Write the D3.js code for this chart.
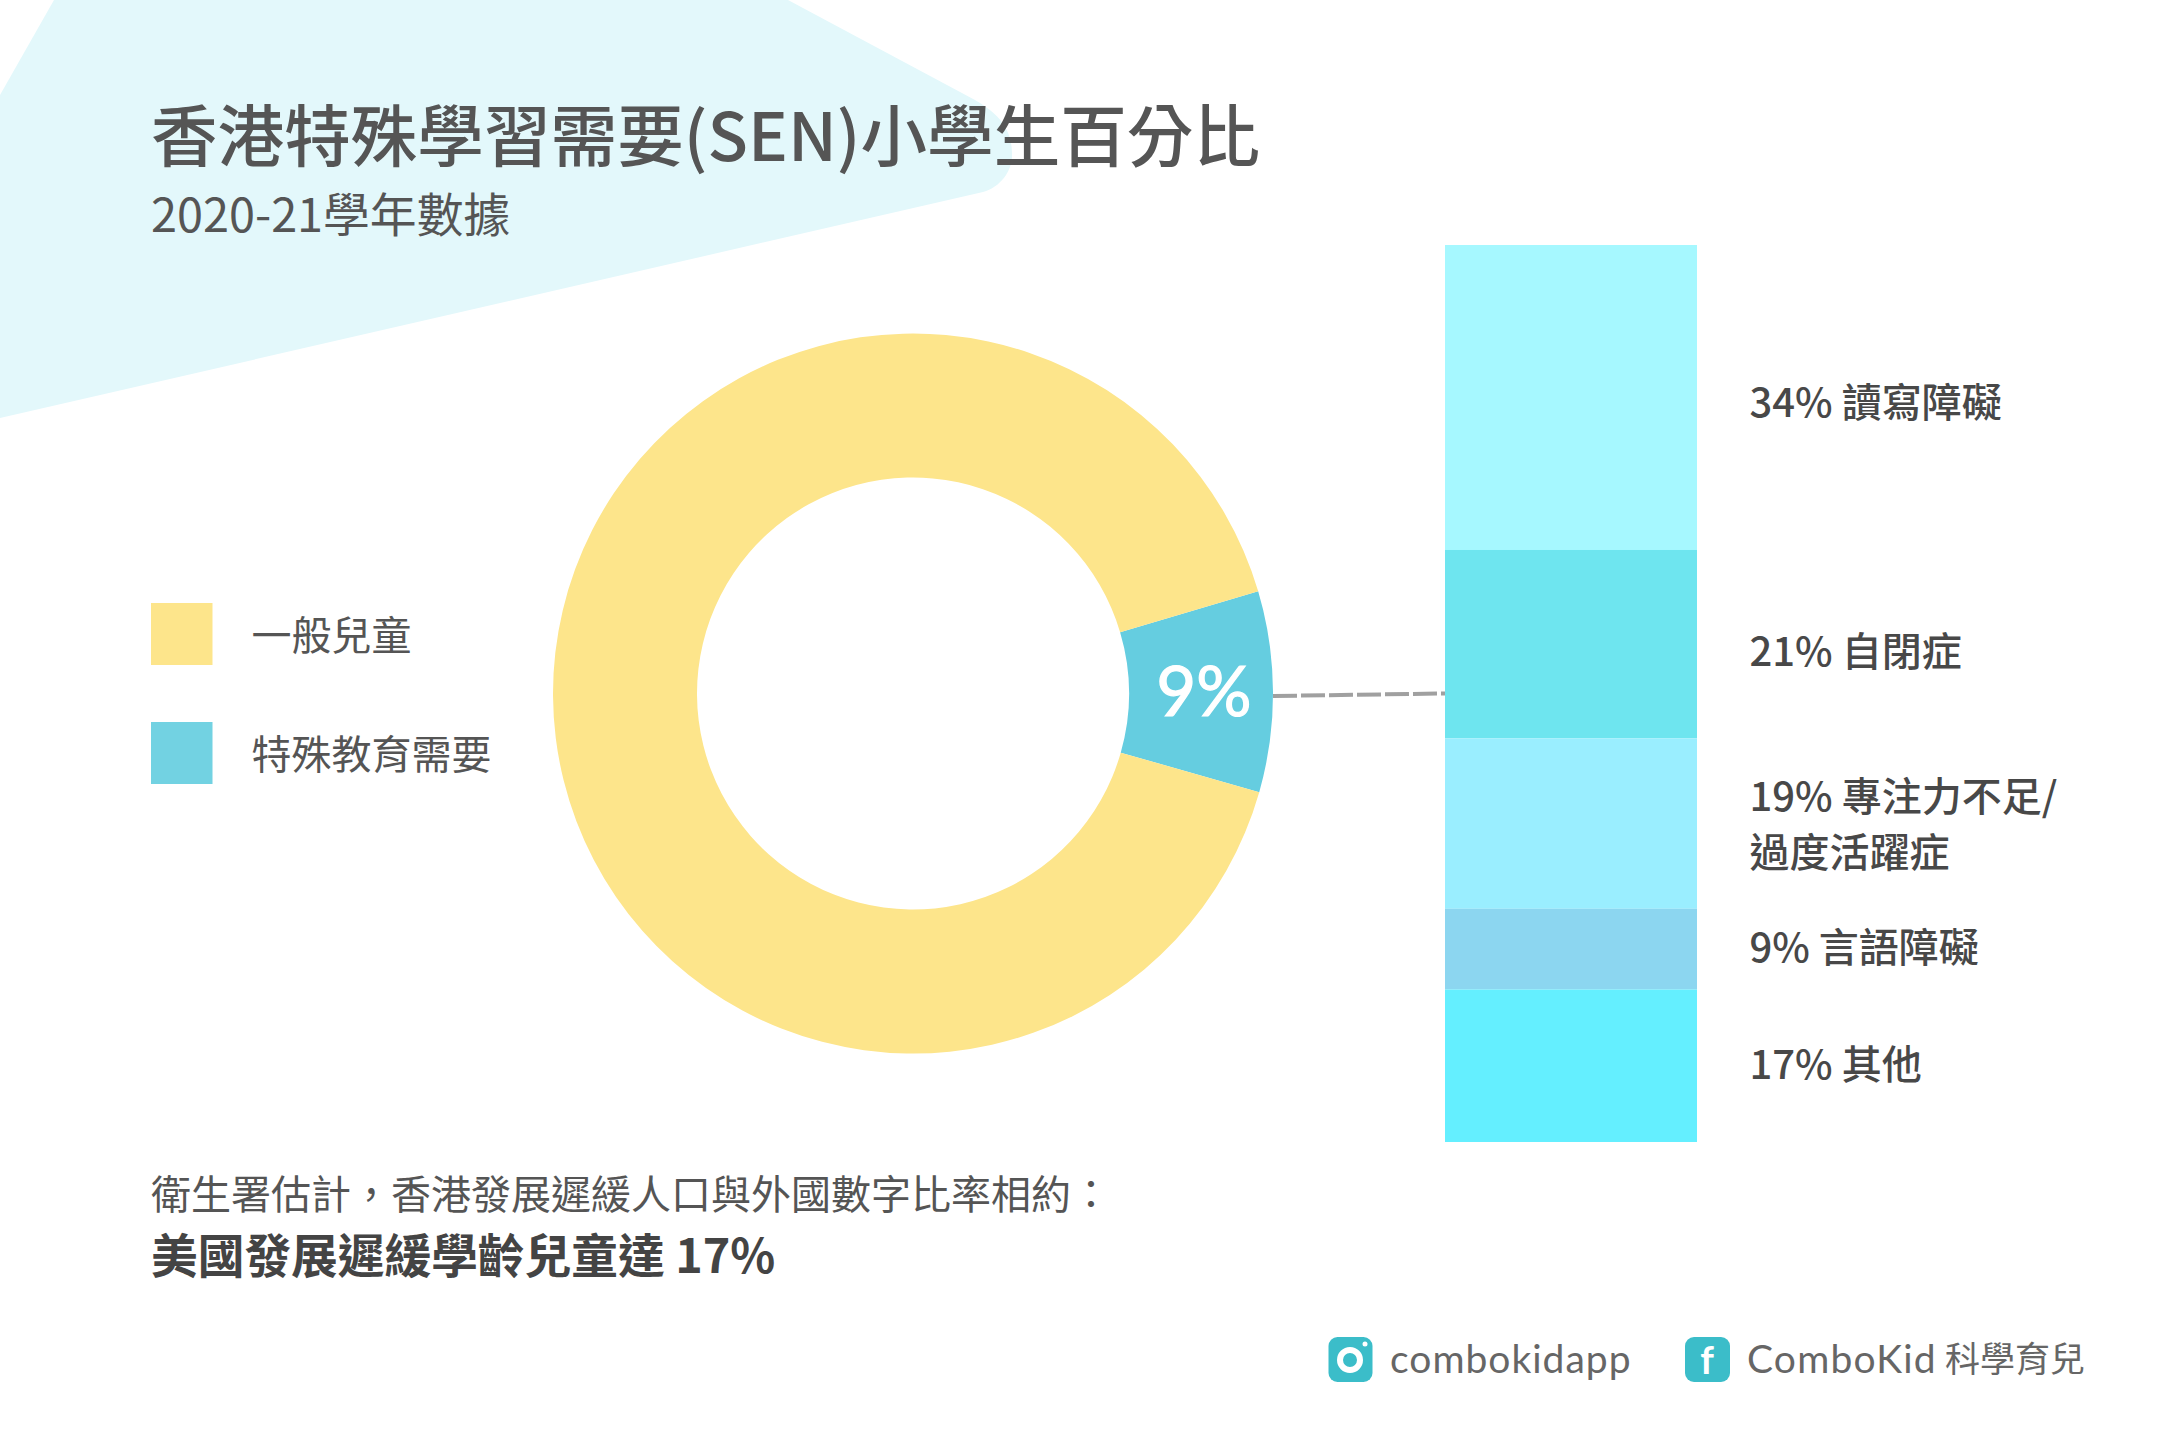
<!DOCTYPE html>
<html>
<head>
<meta charset="utf-8">
<script src="https://cdn.jsdelivr.net/npm/d3@7/dist/d3.min.js"></script>
<style>
html, body { margin: 0; padding: 0; background: #fff; }
svg { display: block; }
text { font-family: "Noto Sans CJK TC", "Noto Sans", sans-serif; }
</style>
</head>
<body>
<div id="chart"></div>
<script>
// pie data
const groupNames = ["特殊教育需要", "一般兒童"];
const groupValues = [9, 91];
const legendNames = ["一般兒童", "特殊教育需要"];

// stacked column data, top to bottom
const senValues = [34, 21, 19, 9, 17];
const senLines = [
    ["34% 讀寫障礙"],
    ["21% 自閉症"],
    ["19% 專注力不足/", "過度活躍症"],
    ["9% 言語障礙"],
    ["17% 其他"]
];

const width = 2160;
const height = 1440;

const groupColor = d3.scaleOrdinal()
    .domain(["一般兒童", "特殊教育需要"])
    .range(["#fde58b", "#65cde0"]);
const senColors = ["#a6f8ff", "#6ee5ef", "#9aeeff", "#8cd6f0", "#64efff"];

const svg = d3.select("#chart")
    .append("svg")
    .attr("width", width)
    .attr("height", height);

// background shape
svg.append("path")
    .attr("d", "M0,95L54,0L788,0L975,100C1005,117 1012,135 1012,155C1012,172 1000,187 983,192L0,418Z")
    .attr("fill", "#e3f8fb");

// title
svg.append("text")
    .attr("x", 151).attr("y", 161)
    .attr("font-size", 66.6)
    .attr("font-weight", 500)
    .attr("fill", "#555")
    .text("香港特殊學習需要(SEN)小學生百分比");

svg.append("text")
    .attr("x", 151).attr("y", 232)
    .attr("font-size", 46.8)
    .attr("font-weight", 400)
    .attr("fill", "#555")
    .text("2020-21學年數據");

// donut
const cx = 913, cy = 693.5;
const rotate = 73.5 * Math.PI / 180;
const pie = d3.pie().sort(null)
    .startAngle(rotate)
    .endAngle(rotate + 2 * Math.PI);
const arc = d3.arc().innerRadius(216).outerRadius(360);
const arcs = pie(groupValues);

const donut = svg.append("g").attr("transform", `translate(${cx},${cy})`);
donut.selectAll("path")
    .data(arcs)
    .enter().append("path")
    .attr("d", arc)
    .attr("fill", (d, i) => groupColor(groupNames[i]));

donut.append("text")
    .attr("x", arc.centroid(arcs[0])[0] + 3)
    .attr("y", 22)
    .attr("text-anchor", "middle")
    .attr("font-size", 69)
    .attr("fill", "#fff")
    .attr("stroke", "#fff")
    .attr("stroke-width", 1.2)
    .style("font-family", "Lato")
    .text(groupValues[0] + "%");

// legend
const legend = svg.append("g")
    .selectAll("g")
    .data(legendNames)
    .enter().append("g")
    .attr("transform", (d, i) => `translate(151,${603 + i * 119})`);
legend.append("rect")
    .attr("width", 61.5).attr("height", 62)
    .attr("fill", d => d == "一般兒童" ? "#fde58b" : "#72d2e2");
legend.append("text")
    .attr("x", 100.5).attr("y", 47)
    .attr("font-size", 40)
    .attr("font-weight", 400)
    .attr("fill", "#555")
    .text(d => d);

// stacked column
const y = d3.scaleLinear().domain([0, d3.sum(senValues)]).range([245, 1142]);
let running = 0;
const segments = senValues.map((v, i) => {
    const s = { i: i, y0: running, y1: running + v };
    running += v;
    return s;
});

svg.append("g")
    .selectAll("rect")
    .data(segments)
    .enter().append("rect")
    .attr("x", 1445)
    .attr("width", 252)
    .attr("y", d => y(d.y0))
    .attr("height", d => y(d.y1) - y(d.y0))
    .attr("fill", d => senColors[d.i]);

// labels sit a little off the middle of each segment in the original
const labelNudge = [20, 22, 15, 13, 13];
svg.append("g")
    .selectAll("text")
    .data(segments)
    .enter().append("text")
    .attr("font-size", 40)
    .attr("font-weight", 500)
    .attr("fill", "#484848")
    .each(function(d) {
        const lines = senLines[d.i];
        const mid = (y(d.y0) + y(d.y1)) / 2 + labelNudge[d.i];
        d3.select(this).selectAll("tspan")
            .data(lines)
            .enter().append("tspan")
            .attr("x", 1749.5)
            .attr("y", (l, j) => mid + (j - (lines.length - 1) / 2) * 56)
            .text(l => l);
    });

// connector
svg.append("line")
    .attr("x1", 1273).attr("y1", 696)
    .attr("x2", 1445).attr("y2", 693.5)
    .attr("stroke", "#a0a0a0")
    .attr("stroke-width", 4)
    .attr("stroke-dasharray", "24 4");

// note
svg.append("text")
    .attr("x", 151).attr("y", 1209)
    .attr("font-size", 40)
    .attr("font-weight", 400)
    .attr("fill", "#555")
    .text("衛生署估計，香港發展遲緩人口與外國數字比率相約：");
svg.append("text")
    .attr("x", 151).attr("y", 1273)
    .attr("font-size", 46.7)
    .attr("font-weight", 700)
    .attr("fill", "#444")
    .text("美國發展遲緩學齡兒童達 17%");

// footer icons
const teal = "#3bbdc9";
svg.append("rect")
    .attr("x", 1328.5).attr("y", 1337)
    .attr("width", 44).attr("height", 45).attr("rx", 9)
    .attr("fill", teal);
svg.append("circle")
    .attr("cx", 1350).attr("cy", 1360).attr("r", 10)
    .attr("fill", "none").attr("stroke", "#fff").attr("stroke-width", 6);
svg.append("circle")
    .attr("cx", 1365).attr("cy", 1344).attr("r", 2.5)
    .attr("fill", "#fff");
svg.append("rect")
    .attr("x", 1685).attr("y", 1337)
    .attr("width", 45).attr("height", 45).attr("rx", 9)
    .attr("fill", teal);
svg.append("text")
    .attr("x", 1707).attr("y", 1374)
    .attr("text-anchor", "middle")
    .attr("font-size", 38)
    .attr("font-weight", 700)
    .attr("fill", "#fff")
    .style("font-family", "Lato")
    .text("f");

svg.append("text")
    .attr("x", 1390).attr("y", 1373)
    .attr("font-size", 39)
    .attr("letter-spacing", 1)
    .attr("fill", "#666")
    .style("font-family", "Lato")
    .text("combokidapp");
svg.append("text")
    .attr("x", 1747).attr("y", 1373)
    .attr("font-size", 39)
    .attr("letter-spacing", 1.2)
    .attr("fill", "#666")
    .style("font-family", "Lato")
    .text("ComboKid");
svg.append("text")
    .attr("x", 1945).attr("y", 1372)
    .attr("font-size", 35)
    .attr("font-weight", 400)
    .attr("fill", "#666")
    .text("科學育兒");
</script>
</body>
</html>
